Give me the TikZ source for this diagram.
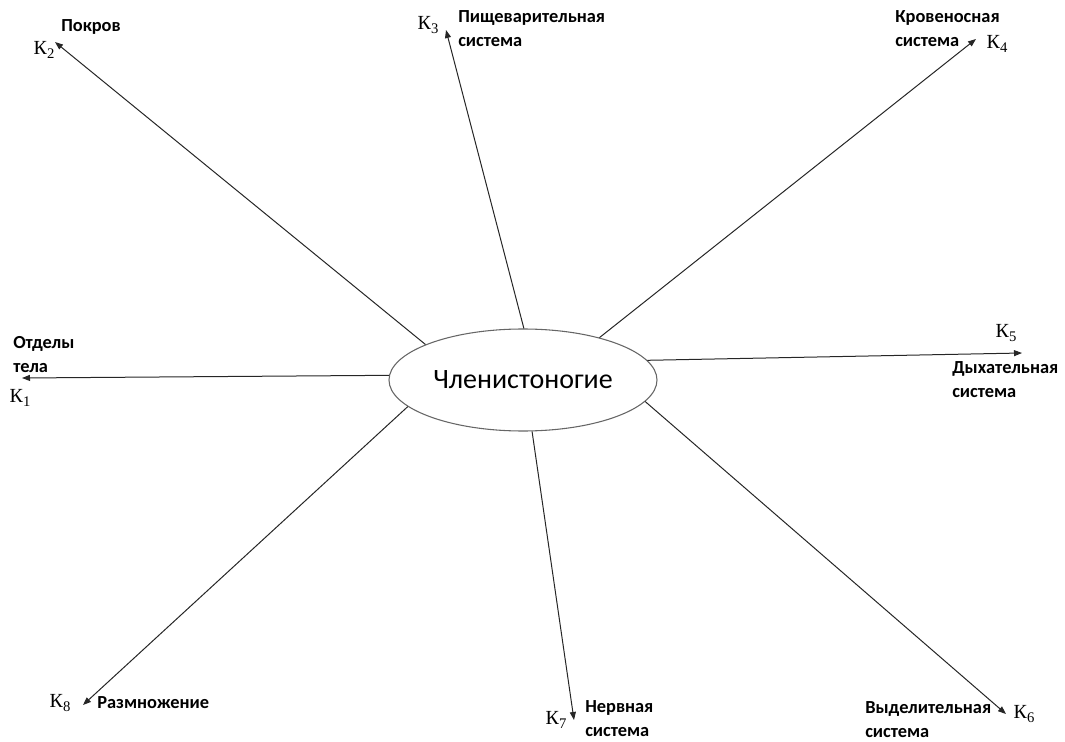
\documentclass[tikz,border=0pt]{standalone}
\usepackage{fontspec}
\setmainfont{Liberation Serif}
\newfontfamily\lblfont{Carlito}
\usetikzlibrary{shapes.geometric,arrows.meta}

% index letter with a lowered digit
\newcommand{\kidx}[1]{К\raisebox{-0.45ex}{\fontsize{11}{11}\selectfont #1}}

\begin{document}
\begin{tikzpicture}[x=0.75pt,y=-0.75pt,
    hub/.style={ellipse,draw=black!60,line width=0.8pt,minimum width=201pt,
      minimum height=76.5pt,inner sep=0pt,font=\lblfont\fontsize{21}{24}\selectfont},
    ray/.style={draw=black!85,line width=0.75pt,
      -{Triangle[length=6pt,width=4.5pt]}},
    kmark/.style={inner sep=0pt,anchor=center,font=\fontsize{15}{18}\selectfont},
    topic/.style={inner sep=0pt,anchor=base west,align=left,
      font=\lblfont\bfseries\fontsize{13.8}{18}\selectfont}]
  \useasboundingbox (0,0) rectangle (1065,742);

  % central concept
  \node[hub] (c) at (523,380) {Членистоногие};

  % arrow tips
  \coordinate (t1) at (22,378);
  \coordinate (t2) at (55,42);
  \coordinate (t3) at (446,30);
  \coordinate (t4) at (976,39);
  \coordinate (t5) at (1022,353);
  \coordinate (t6) at (1006,714);
  \coordinate (t7) at (574,720);
  \coordinate (t8) at (83,705);

  % rays from the ellipse
  \draw[ray] (c.178.7) -- (t1);
  \draw[ray] (c.160.2) -- (t2);
  \draw[ray] (c.89)    -- (t3);
  \draw[ray] (c.29.9)  -- (t4);
  \draw[ray] (c.9.4)   -- (t5);
  \draw[ray] (c.-10.3) -- (t6);
  \draw[ray] (c.-80)   -- (t7);
  \draw[ray] (c.193.9) -- (t8);

  % index marks
  \node[kmark] (k1) at (20,398)   {\kidx{1}};
  \node[kmark] (k2) at (44,50)    {\kidx{2}};
  \node[kmark] (k3) at (428,25)   {\kidx{3}};
  \node[kmark] (k4) at (997,44)   {\kidx{4}};
  \node[kmark] (k5) at (1006,333) {\kidx{5}};
  \node[kmark] (k6) at (1024,714) {\kidx{6}};
  \node[kmark] (k7) at (556,720)  {\kidx{7}};
  \node[kmark] (k8) at (60,703)   {\kidx{8}};

  % topic labels (anchored at the baseline of the last line)
  \node[topic] (l1) at (13,372)  {Отделы\\тела};
  \node[topic] (l2) at (61,32)   {Покров};
  \node[topic] (l3) at (458,47)  {Пищеварительная\\система};
  \node[topic] (l4) at (895,47)  {Кровеносная\\система};
  \node[topic] (l5) at (952,397) {Дыхательная\\система};
  \node[topic] (l6) at (865,737) {Выделительная\\система};
  \node[topic] (l7) at (585,736) {Нервная\\система};
  \node[topic] (l8) at (97,708)  {Размножение};
\end{tikzpicture}
\end{document}
